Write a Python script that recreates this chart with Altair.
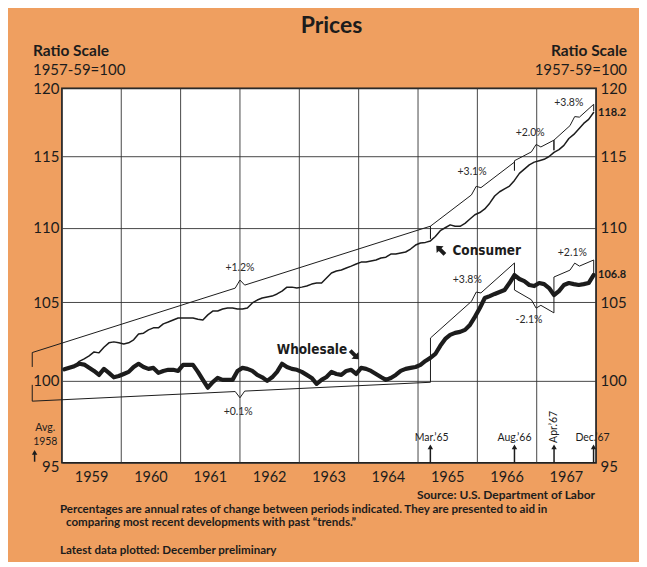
import altair as alt
import pandas as pd

ORANGE = "#EF9F60"
INK = "#1c1c1c"
FONT = "Lato"
NARROW = "DejaVu Sans Condensed, Roboto Condensed, Roboto, sans-serif"

# ---------------- data ----------------
year_bounds = [1959, 1960, 1961, 1962, 1963, 1964, 1965, 1966, 1967, 1968]
year_labels = [1959, 1960, 1961, 1962, 1963, 1964, 1965, 1966, 1967]
y_ticks = [95, 100, 105, 110, 115, 120]

# Consumer prices, monthly Jan 1959 .. Dec 1967 (1957-59=100)
consumer = [
    100.73, 100.8, 100.9, 101.2, 101.36, 101.55, 101.8, 101.74, 102.1, 102.38, 102.44, 102.38,
    102.3, 102.38, 102.57, 102.95, 103.0, 103.21, 103.34, 103.34, 103.6, 103.72, 103.85, 103.98,
    103.98, 103.98, 103.98, 103.9, 103.85, 104.18, 104.43, 104.43, 104.56, 104.63, 104.63, 104.56,
    104.56, 104.63, 104.96, 105.15, 105.28, 105.35, 105.41, 105.55, 105.74, 106.0, 106.0, 105.94,
    106.0, 106.07, 106.2, 106.27, 106.27, 106.6, 106.94, 107.07, 107.14, 107.27, 107.4, 107.54,
    107.67, 107.67, 107.74, 107.81, 107.94, 108.0, 108.21, 108.21, 108.28, 108.35, 108.55, 108.82,
    108.96, 109.0, 109.1, 109.4, 109.8, 110.0, 110.2, 110.1, 110.1, 110.3, 110.6, 110.9,
    111.05, 111.3, 111.7, 112.2, 112.5, 112.7, 112.9, 113.3, 113.8, 114.1, 114.4, 114.6,
    114.7, 114.8, 115.0, 115.3, 115.5, 115.8, 116.3, 116.6, 117.0, 117.4, 117.7, 118.2,
]

# Wholesale prices, monthly Jan 1959 .. Dec 1967
wholesale = [
    100.7, 100.8, 100.9, 101.05, 101.0, 100.8, 100.6, 100.35, 100.73, 100.48, 100.2, 100.28,
    100.41, 100.54, 100.85, 101.05, 100.85, 100.73, 100.79, 100.48, 100.6, 100.67, 100.67, 100.6,
    100.98, 100.98, 100.98, 100.54, 100.04, 99.55, 99.9, 100.16, 100.04, 100.04, 100.04, 100.6,
    100.79, 100.73, 100.6, 100.35, 100.2, 99.98, 100.2, 100.54, 101.05, 100.85, 100.73, 100.67,
    100.54, 100.35, 100.16, 99.79, 100.04, 100.22, 100.54, 100.41, 100.35, 100.6, 100.67, 100.41,
    100.79, 100.73, 100.6, 100.41, 100.22, 100.04, 100.16, 100.35, 100.6, 100.73, 100.79, 100.85,
    100.98, 101.23, 101.42, 101.67, 102.19, 102.63, 102.89, 103.02, 103.08, 103.21, 103.53, 104.05,
    104.63, 105.28, 105.41, 105.55, 105.68, 105.81, 106.27, 106.8, 106.54, 106.4, 106.14, 106.07,
    106.27, 106.2, 105.94, 105.48, 105.74, 106.14, 106.27, 106.2, 106.14, 106.2, 106.27, 106.8,
]

# Trend braces (annual rates between indicated periods)
brace_id = ["A", "B", "C", "D", "E", "F", "G", "H"]
brace_x0 = [1958.5, 1965.21, 1966.625, 1967.29, 1958.5, 1965.21, 1966.625, 1967.29]
brace_x1 = [1965.21, 1966.625, 1967.29, 1967.96, 1965.21, 1966.625, 1967.29, 1967.96]
brace_stub0 = [100.85, 109.25, 114.0, 115.45, 99.73, 101.42, 106.8, 105.48]
brace_line0 = [101.76, 110.11, 114.7, 116.18, 98.72, 102.69, 105.81, 106.67]
brace_line1 = [110.11, 114.6, 116.18, 118.81, 99.89, 107.61, 104.31, 107.81]
brace_stub1 = [109.25, 114.0, 115.45, 118.3, 101.42, 106.8, 105.48, 106.8]
brace_tip_x = [1962.0, 1965.98, 1966.99, 1967.64, 1962.0, 1965.98, 1966.99, 1967.64]
brace_tip_v = [106.47, 112.88, 115.87, 117.9, 98.93, 105.67, 104.62, 107.6]

rate_labels = ["+1.2%", "+3.1%", "+2.0%", "+3.8%", "+0.1%", "+3.8%", "-2.1%", "+2.1%"]
rate_label_x = [1962.0, 1965.91, 1966.89, 1967.54, 1961.97, 1965.83, 1966.87, 1967.6]
rate_label_v = [107.27, 113.9, 116.68, 118.92, 98.07, 106.47, 103.85, 108.28]

series_names = ["Consumer", "Wholesale"]
series_label_x = [1965.58, 1962.62]
series_label_v = [108.41, 101.93]
series_arrow_x = [1965.38, 1963.93]
series_arrow_v = [108.48, 101.61]
series_arrow_angle = [315, 135]

end_values = [118.2, 106.8]

event_x = [1958.54, 1965.208, 1966.625, 1967.292, 1967.958]
event_arrow_low = [95.06, 95.0, 95.0, 95.0, 95.0]
event_arrow_top = [95.62, 95.95, 95.95, 95.95, 95.95]
event_text = ["Avg.\n1958", "Mar.\u201965", "Aug.\u201966", "Apr.\u201967", "Dec.\u201967"]
event_text_x = [1958.72, 1965.23, 1966.625, 1967.292, 1967.94]
event_text_v = [97.05, 96.49, 96.49, 97.15, 96.49]
event_text_angle = [0, 0, 0, 270, 0]

# ---------------- tables ----------------
n = len(consumer)
months = [1959 + (k + 0.5) / 12 for k in range(n)]
series_df = pd.DataFrame({
    "t": months + months,
    "v": consumer + wholesale,
    "s": ["Consumer"] * n + ["Wholesale"] * n,
})


def interp(x, x0, v0, x1, v1):
    f = (x - x0) / (x1 - x0)
    return v0 * (v1 / v0) ** f


rows = []
for i, b in enumerate(brace_id):
    x0, x1 = brace_x0[i], brace_x1[i]
    l0, l1 = brace_line0[i], brace_line1[i]
    tx = brace_tip_x[i]
    pts = [
        (x0, brace_stub0[i]),
        (x0, l0),
        (tx - 0.08, interp(tx - 0.08, x0, l0, x1, l1)),
        (tx, brace_tip_v[i]),
        (tx + 0.08, interp(tx + 0.08, x0, l0, x1, l1)),
        (x1, l1),
        (x1, brace_stub1[i]),
    ]
    for o, (px, pv) in enumerate(pts):
        rows.append({"b": b, "o": o, "t": px, "v": pv})
brace_df = pd.DataFrame(rows)

grid_df = pd.DataFrame({"t": year_bounds})
yearlab_df = pd.DataFrame({"t": [y + 0.5 for y in year_labels], "txt": [str(y) for y in year_labels]})
rate_df = pd.DataFrame({"t": rate_label_x, "v": rate_label_v, "txt": rate_labels})
name_df = pd.DataFrame({"t": series_label_x, "v": series_label_v, "txt": series_names})
arrow_df = pd.DataFrame({"t": series_arrow_x, "v": series_arrow_v, "a": series_arrow_angle})
end_df = pd.DataFrame({"t": [1968, 1968], "v": end_values, "txt": [f"{e:.1f}" for e in end_values]})
ev_df = pd.DataFrame({"t": event_x, "lo": event_arrow_low, "hi": event_arrow_top})
evt_df = pd.DataFrame({"t": event_text_x, "v": event_text_v, "txt": event_text, "a": event_text_angle})

# ---------------- scales ----------------
xs = alt.Scale(domain=[1959, 1968], nice=False, zero=False)
ys = alt.Scale(type="log", domain=[95, 120], nice=False, zero=False)


def X(f="t"):
    return alt.X(f"{f}:Q", scale=xs, axis=None)


def Y(f="v"):
    return alt.Y(f"{f}:Q", scale=ys, axis=None)


label95 = {"condition": {"test": "datum.value == 95", "value": 4}, "value": 0}

vgrid = alt.Chart(grid_df).mark_rule(color="#333333", strokeWidth=0.9).encode(x=X())

year_text = alt.Chart(yearlab_df).mark_text(font=FONT, fontSize=14.5, color=INK, baseline="middle").encode(
    x=X(), y=alt.value(390), text="txt:N")

braces = alt.Chart(brace_df).mark_line(color=INK, strokeWidth=1.0, strokeJoin="miter").encode(
    x=X(),
    y=alt.Y("v:Q", scale=ys, axis=alt.Axis(
        orient="right", values=y_ticks, grid=False, ticks=False, domain=False,
        labelPadding=4, labelFont=FONT, labelFontSize=15, labelColor=INK,
        labelOffset=label95, labelFlush=False, title=None)),
    detail="b:N",
    order="o:Q",
)

lines = alt.Chart(series_df).mark_line(color=INK, strokeJoin="round", strokeCap="round").encode(
    x=X(),
    y=alt.Y("v:Q", scale=ys, axis=alt.Axis(
        orient="left", values=y_ticks, grid=True, gridColor="#333333", gridWidth=0.9,
        ticks=False, domain=False, labelPadding=3, labelFont=FONT, labelFontSize=15,
        labelColor=INK, labelOffset=label95, labelFlush=False, title=None)),
    strokeWidth=alt.StrokeWidth("s:N", scale=alt.Scale(domain=series_names, range=[1.5, 4.2]), legend=None),
    detail="s:N",
)

rates = alt.Chart(rate_df).mark_text(font=FONT, fontSize=10.5, color="#2a2a2a", baseline="middle").encode(
    x=X(), y=Y(), text="txt:N")

names = alt.Chart(name_df).mark_text(font=NARROW, fontSize=13.5, fontWeight="bold", color=INK,
                                     align="left", baseline="middle").encode(x=X(), y=Y(), text="txt:N")

ARROW = "M0,-1 L0.8,-0.1 L0.32,-0.1 L0.32,1 L-0.32,1 L-0.32,-0.1 L-0.8,-0.1 Z"
arrows = alt.Chart(arrow_df).mark_point(shape=ARROW, filled=True, size=150, color=INK, opacity=1,
                                        strokeWidth=0).encode(
    x=X(), y=Y(), angle=alt.Angle("a:Q", scale=None))

ends = alt.Chart(end_df).mark_text(font=FONT, fontSize=11, fontWeight="bold", color=INK,
                                   align="left", baseline="middle", dx=2).encode(x=X(), y=Y(), text="txt:N")

ev_rules = alt.Chart(ev_df).mark_rule(color=INK, strokeWidth=1.5).encode(x=X(), y=Y("lo"), y2="hi:Q")
ev_heads = alt.Chart(ev_df).mark_point(shape="triangle-up", filled=True, size=30, color=INK, opacity=1).encode(
    x=X(), y=Y("hi"))
ev_text = alt.Chart(evt_df).mark_text(font=FONT, fontSize=10.5, color=INK, baseline="middle",
                                      lineBreak="\n", lineHeight=14).encode(
    x=X(), y=Y(), text="txt:N", angle=alt.Angle("a:Q", scale=None))


def note(text, px, py, size, weight="normal", align="left"):
    return alt.Chart(pd.DataFrame({"txt": [text]})).mark_text(
        font=FONT, fontSize=size, fontWeight=weight, color=INK, align=align, baseline="middle"
    ).encode(x=alt.value(px), y=alt.value(py), text="txt:N")


notes = [
    note("Prices", 270, -62, 23, "bold", "center"),
    note("Ratio Scale", -29, -37, 15.5, "bold"),
    note("1957-59=100", -29, -18, 15, "normal"),
    note("Ratio Scale", 566, -37, 15.5, "bold", "right"),
    note("1957-59=100", 566, -18, 15, "normal", "right"),
    note("Source: U.S. Department of Labor", 534, 407, 12, "bold", "right"),
    note("Percentages are annual rates of change between periods indicated. They are presented to aid in",
         -2, 422, 11.6, "bold"),
    note("comparing most recent developments with past \u201ctrends.\u201d", 4, 435, 11.6, "bold"),
    note("Latest data plotted: December preliminary", -2, 463, 11.6, "bold"),
]

chart = alt.layer(
    vgrid, braces, lines, rates, names, arrows, ends, ev_rules, ev_heads, ev_text, year_text, *notes
).resolve_axis(y="independent").properties(
    width=535, height=375,
    padding={"left": 54, "top": 80, "right": 43, "bottom": 99},
    autosize=alt.AutoSizeParams(type="none"),
    background=ORANGE,
).configure_view(fill="white", stroke=INK, strokeWidth=1.6)

chart.save("out.html", embed_options={"renderer": "svg", "actions": False})
